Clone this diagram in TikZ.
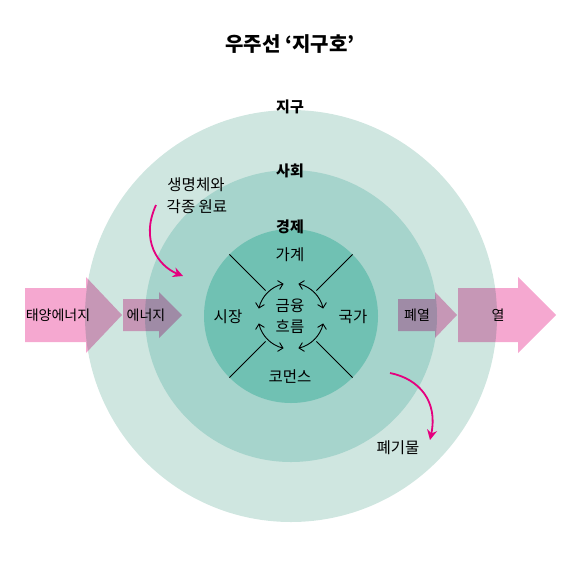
\documentclass[tikz,border=0pt]{standalone}
\usepackage{fontspec}
\setmainfont{Noto Sans CJK KR}
\usetikzlibrary{arrows.meta,calc}
\definecolor{outerc}{HTML}{CFE6E0}
\definecolor{midc}{HTML}{A6D4CC}
\definecolor{innerc}{HTML}{70C1B3}
\definecolor{pinkc}{HTML}{F5A8D0}
\definecolor{magc}{HTML}{E5007E}
\tikzset{
  lbl/.style={inner sep=0pt, font=\fontsize{15.5}{15.5}\selectfont},
  albl/.style={inner sep=0pt, font=\fontsize{14}{14}\selectfont},
  blbl/.style={inner sep=0pt, font=\fontsize{15}{15}\selectfont\bfseries},
  pinkarrow/.style={fill=pinkc, blend mode=multiply},
  magarrow/.style={draw=magc, line width=1.8pt, -{Stealth[length=10pt,width=10pt]}},
  flowarc/.style={draw=black, line width=0.9pt, {Straight Barb[length=4.5pt,width=9pt]}-{Straight Barb[length=4.5pt,width=9pt]}},
  divline/.style={draw=black, line width=0.8pt}
}
\begin{document}
\begin{tikzpicture}[x=1pt,y=-1pt]
\useasboundingbox (0,0) rectangle (572,560);
\coordinate (c) at (291,316);
% circles
\fill[outerc] (c) circle[radius=206];
\fill[midc] (c) circle[radius=146];
\fill[innerc] (c) circle[radius=87];
% pink arrows
\fill[pinkarrow] (25,288) -- (86,288) -- (86,277) -- (122,315) -- (86,353) -- (86,342) -- (25,342) -- cycle;
\fill[pinkarrow] (123,299) -- (159,299) -- (159,292) -- (182,315) -- (159,338) -- (159,331) -- (123,331) -- cycle;
\fill[pinkarrow] (398,299) -- (435,299) -- (435,292) -- (457,315) -- (435,338) -- (435,331) -- (398,331) -- cycle;
\fill[pinkarrow] (458,288) -- (518,288) -- (518,277) -- (556,315) -- (518,353) -- (518,342) -- (458,342) -- cycle;
% title
\node[inner sep=0pt, font=\fontsize{20}{20}\selectfont\bfseries] (title) at (290,44) {우주선 ‘지구호’};
% ring labels
\node[blbl] (earth) at (290,107) {지구};
\node[blbl] (society) at (290,171) {사회};
\node[blbl] (economy) at (290,227) {경제};
% arrow labels
\node[albl] (solar) at (58,315) {태양에너지};
\node[albl] (energy) at (146,315) {에너지};
\node[albl] (wasteheat) at (417,315) {폐열};
\node[albl] (heat) at (498,315) {열};
% resources
\node[lbl] (res1) at (196,185) {생명체와};
\node[lbl] (res2) at (197,207) {각종 원료};
\coordinate (r0) at (156,205);
\coordinate (r1) at (183,276);
\draw[magarrow] (r0) .. controls (140,240) and (158,266) .. (r1);
\node[lbl] (waste) at (398,448) {폐기물};
\coordinate (w0) at (390,373);
\coordinate (w1) at (430,440);
\draw[magarrow] (w0) .. controls (420,379) and (438,402) .. (w1);
% divider lines
\foreach \a in {45,135,225,315}{
  \draw[divline] ($(c)+(-\a:87)$) -- ($(c)+(-\a:36)$);
}
% flow arcs
\foreach \s/\e in {103/167, 77/13, -13/-77, -103/-167}{
  \draw[flowarc] ($(c)+(-\s:33)$) arc[start angle=-\s, end angle=-\e, radius=33];
}
% inner labels
\node[lbl] (household) at (290,255) {가계};
\node[lbl] (market) at (228,317) {시장};
\node[lbl] (state) at (353,317) {국가};
\node[lbl] (commons) at (290,377) {코먼스};
\node[lbl] (fin1) at (290,306) {금융};
\node[lbl] (fin2) at (290,327) {흐름};
\end{tikzpicture}
\end{document}
